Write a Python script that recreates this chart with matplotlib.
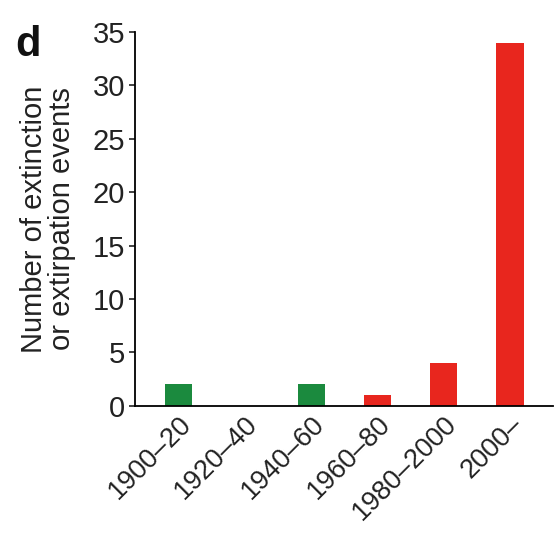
import matplotlib.pyplot as plt
import matplotlib.transforms as mtransforms

plt.rcParams['font.family'] = ['Liberation Sans', 'DejaVu Sans']

# Data
periods = ['1900–20', '1920–40', '1940–60', '1960–80', '1980–2000', '2000–']
events = [2, 0, 2, 1, 4, 34]
bar_colors = ['#1b8a3e', '#1b8a3e', '#1b8a3e', '#e8261e', '#e8261e', '#e8261e']

fig = plt.figure(figsize=(5.57, 5.34), dpi=100)
ax = fig.add_axes([0.242, 0.240, 0.751, 0.700])

x = list(range(len(periods)))
ax.bar(x, events, width=0.41, color=bar_colors)

ax.set_ylim(0, 35)
ax.set_xlim(-0.66, 5.65)
ax.set_yticks([0, 5, 10, 15, 20, 25, 30, 35])
ax.set_xticks(x)
ax.set_xticklabels(periods, rotation=45, ha='right', rotation_mode='anchor')

# nudge the rotated labels a bit to the right, as in the original
shift = mtransforms.ScaledTranslation(0.10, 0, fig.dpi_scale_trans)
for lab in ax.get_xticklabels():
    lab.set_transform(lab.get_transform() + shift)

for side in ['top', 'right']:
    ax.spines[side].set_visible(False)
ax.spines['left'].set_linewidth(1.3)
ax.spines['bottom'].set_linewidth(1.3)

ax.tick_params(axis='y', labelsize=21, length=4, width=1.2, pad=3, colors='#222222')
ax.tick_params(axis='x', labelsize=19.5, length=0, pad=4, colors='#222222')

ax.set_ylabel('Number of extinction\nor extirpation events', fontsize=21, color='#222222',
              labelpad=12, linespacing=1.0)

fig.text(0.027, 0.895, 'd', fontsize=30, fontweight='bold', color='#111111')

fig.savefig('out.png', dpi=100)
